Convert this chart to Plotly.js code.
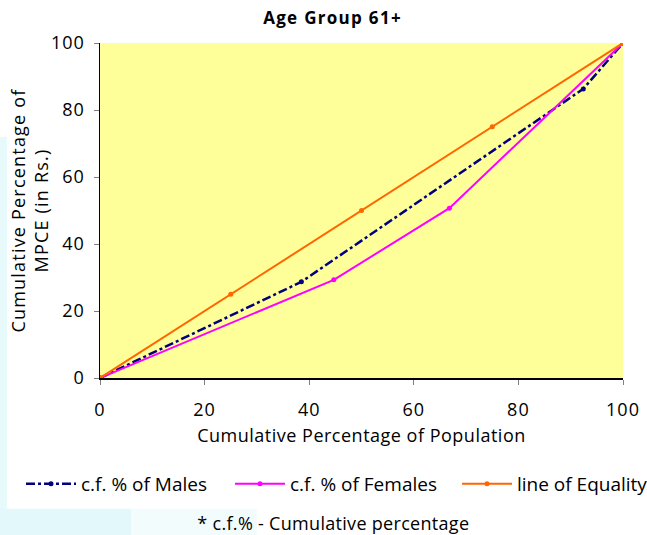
<!DOCTYPE html>
<html>
<head>
<meta charset="utf-8">
<script src="https://cdn.plot.ly/plotly-3.0.1.min.js"></script>
<style>
html,body{margin:0;padding:0;background:#fff;}
#chart{width:647px;height:535px;}
#chart .xtick text, #chart .ytick text{letter-spacing:1px;}
#chart .xtitle{letter-spacing:0.5px;}
#chart .ytitle{letter-spacing:1.2px;}
#chart .gtitle{letter-spacing:1.3px;}
#chart .annotation-text{letter-spacing:0.3px;}
</style>
</head>
<body>
<div id="chart"></div>
<script>
// Data
const malesX = [0, 38.5, 92.4, 100];
const malesY = [0, 28.7, 86.3, 100];
const femalesX = [0, 44.7, 66.8, 100];
const femalesY = [0, 29.3, 50.7, 100];
const equalityX = [0, 25, 50, 75, 100];
const equalityY = [0, 25, 50, 75, 100];
const seriesNames = ["c.f. % of Males", "c.f. % of Females", "line of Equality"];
const tickVals = [0, 20, 40, 60, 80, 100];

const FONT = "'Open Sans', sans-serif";
const FS = 18;

const traces = [
  {x: malesX, y: malesY, name: seriesNames[0], mode: "lines+markers", legend: "legend",
   line: {color: "#000080", width: 2.5, dash: "dashdot"},
   marker: {color: "#000080", size: 5}},
  {x: femalesX, y: femalesY, name: seriesNames[1], mode: "lines+markers", legend: "legend2",
   line: {color: "#FF00FF", width: 2},
   marker: {color: "#FF00FF", size: 5}},
  {x: equalityX, y: equalityY, name: seriesNames[2], mode: "lines+markers", legend: "legend3",
   line: {color: "#FF6600", width: 2},
   marker: {color: "#FF6600", size: 5}}
];

function leg(xpx) {
  return {orientation: "h", x: (xpx - 100) / 523, xanchor: "left", y: (378 - 484) / 335, yanchor: "middle",
          font: {family: FONT, size: 19, color: "#000"}, bgcolor: "rgba(0,0,0,0)", itemwidth: 50};
}

const layout = {
  width: 647, height: 535,
  margin: {l: 100, r: 24, t: 43, b: 157, autoexpand: false},
  paper_bgcolor: "rgba(0,0,0,0)",
  plot_bgcolor: "#FFFF99",
  font: {family: FONT, color: "#000", size: FS},
  title: {text: "<b>Age Group 61+</b>", x: 0.514, xanchor: "center", y: 0.967, yanchor: "middle",
          font: {family: FONT, size: 17, color: "#000"}},
  showlegend: true,
  legend: leg(21),
  legend2: leg(230),
  legend3: leg(457),
  xaxis: {range: [0, 100], tickvals: tickVals, ticks: "outside", ticklen: 5, tickcolor: "#808080",
          showgrid: false, zeroline: false, showline: true, linecolor: "#000", linewidth: 1.5,
          tickfont: {family: FONT, size: FS}, fixedrange: true, automargin: false, ticklabelstandoff: 10,
          title: {text: "Cumulative Percentage of Population", font: {family: FONT, size: FS}, standoff: 9}},
  yaxis: {range: [0, 100], tickvals: tickVals, ticks: "outside", ticklen: 5, tickcolor: "#808080",
          showgrid: false, zeroline: false, showline: true, linecolor: "#000", linewidth: 1.5,
          tickfont: {family: FONT, size: FS}, fixedrange: true, automargin: false, ticklabelstandoff: 5,
          title: {text: "Cumulative Percentage of<br>MPCE (in Rs.)", font: {family: FONT, size: FS}, standoff: 0}},
  annotations: [
    {text: "* c.f.% - Cumulative percentage", xref: "paper", yref: "paper", x: 0.446, y: -0.433,
     xanchor: "center", yanchor: "middle", showarrow: false, font: {family: FONT, size: FS, color: "#000"}}
  ],
  shapes: [
    {type: "rect", xref: "paper", yref: "paper", x0: -0.191, x1: -0.178, y0: -0.47, y1: 0.72,
     fillcolor: "#e6fafc", line: {width: 0}, layer: "below"},
    {type: "rect", xref: "paper", yref: "paper", x0: -0.191, x1: 0.06, y0: -0.47, y1: -0.39,
     fillcolor: "#e3f8fb", line: {width: 0}, layer: "below"},
    {type: "rect", xref: "paper", yref: "paper", x0: 0.06, x1: 0.3, y0: -0.47, y1: -0.39,
     fillcolor: "#f3fcfd", line: {width: 0}, layer: "below"}
  ]
};

Plotly.newPlot("chart", traces, layout, {displayModeBar: false, staticPlot: true});
</script>
</body>
</html>
